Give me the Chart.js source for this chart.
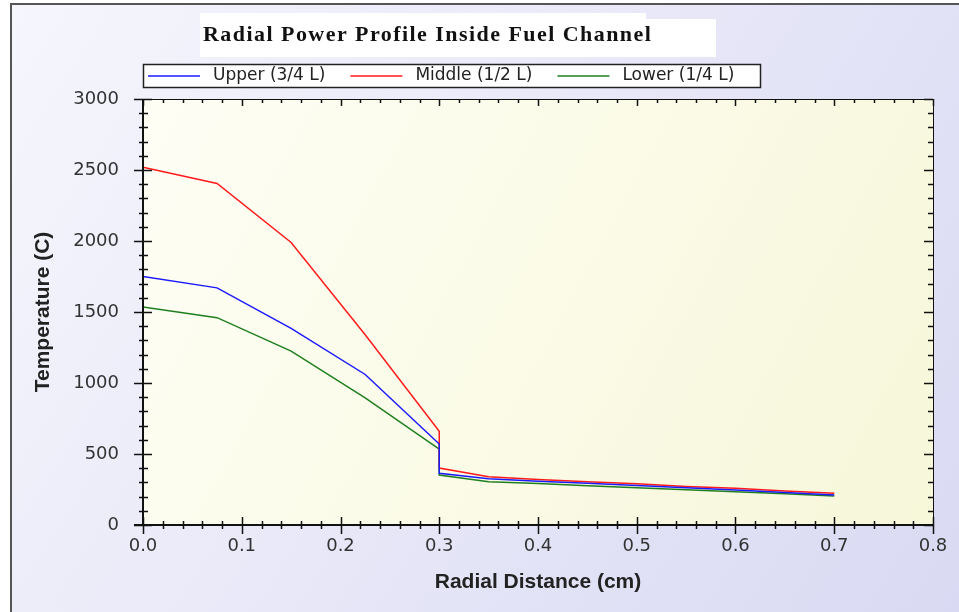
<!DOCTYPE html>
<html lang="en">
<head>
<meta charset="utf-8">
<style>
  html, body { margin: 0; padding: 0; background: #fff; }
  #wrap { width: 959px; height: 612px; }
</style>
</head>
<body>
<div id="wrap"><canvas id="myChart" width="959" height="612"></canvas></div>
<script src="https://cdn.jsdelivr.net/npm/chart.js"></script>
<script>
// values
const radialCm   = [0, 0.075, 0.15, 0.225, 0.3, 0.3, 0.35, 0.4, 0.45, 0.5, 0.55, 0.6, 0.65, 0.7];
const upperTemp  = [1750, 1670, 1385, 1060, 570, 364, 325, 308, 294, 278, 262, 246, 229, 211];
const middleTemp = [2520, 2405, 1990, 1340, 660, 401, 340, 320, 304, 290, 272, 258, 240, 223];
const lowerTemp  = [1535, 1460, 1225, 895, 535, 352, 305, 292, 276, 262, 248, 235, 220, 205];
const seriesNames = ['Upper (3/4 L)', 'Middle (1/2 L)', 'Lower (1/4 L)'];
const seriesColors = ['#1a1aff', '#ff1a1a', '#1f7f1f'];
const chartTitle = 'Radial Power Profile Inside Fuel Channel';

function toPoints(ys) {
  return radialCm.map((x, i) => ({ x: x, y: ys[i] }));
}

// backgrounds, frame, title, legend and tick marks
const decor = {
  id: 'decor',
  beforeDraw(chart) {
    const ctx = chart.ctx;
    const a = chart.chartArea;
    ctx.save();
    ctx.fillStyle = '#ffffff';
    ctx.fillRect(0, 0, chart.width, chart.height);
    let g = ctx.createLinearGradient(11, 4, chart.width, chart.height);
    g.addColorStop(0, '#f6f6fd');
    g.addColorStop(1, '#d9d9f3');
    ctx.fillStyle = g;
    ctx.fillRect(11, 4, chart.width - 11, chart.height - 4);
    ctx.strokeStyle = '#555';
    ctx.lineWidth = 2;
    ctx.beginPath();
    ctx.moveTo(11, chart.height);
    ctx.lineTo(11, 4);
    ctx.lineTo(chart.width, 4);
    ctx.stroke();
    // white box behind title
    ctx.fillStyle = '#ffffff';
    ctx.fillRect(200, 13, 446, 8);
    ctx.fillRect(200, 19, 516, 38);
    // plot area
    g = ctx.createLinearGradient(a.left, a.top, a.right, a.bottom);
    g.addColorStop(0, '#fefef5');
    g.addColorStop(1, '#f7f7da');
    ctx.fillStyle = g;
    ctx.fillRect(a.left, a.top, a.right - a.left, a.bottom - a.top);
    // title
    ctx.fillStyle = '#111';
    ctx.font = 'bold 22px "Liberation Serif"';
    ctx.letterSpacing = '1.45px';
    ctx.textAlign = 'left';
    ctx.textBaseline = 'alphabetic';
    ctx.fillText(chartTitle, 203, 41);
    ctx.restore();
  },
  afterDraw(chart) {
    const ctx = chart.ctx;
    const a = chart.chartArea;
    const xs = chart.scales.x, ys = chart.scales.y;
    ctx.save();
    ctx.strokeStyle = '#111';
    ctx.lineWidth = 1;
    // frame of plot area
    ctx.strokeRect(a.left + 0.5, a.top + 0.5, a.right - a.left, a.bottom - a.top);
    ctx.lineWidth = 2;
    ctx.beginPath();
    ctx.moveTo(a.left, a.top);
    ctx.lineTo(a.left, a.bottom);
    ctx.moveTo(a.left - 9, a.bottom);
    ctx.lineTo(a.right, a.bottom);
    ctx.stroke();
    ctx.lineWidth = 1.5;
    ctx.beginPath();
    // y ticks, minor every 100
    for (let i = 0; i <= 30; i++) {
      const y = Math.round(ys.getPixelForValue(i * 100)) + 0.5;
      const major = i % 5 === 0;
      ctx.moveTo(a.left - (major ? 9 : 4), y);
      ctx.lineTo(a.left + (major ? 9 : 5), y);
      ctx.moveTo(a.right - (major ? 9 : 5), y);
      ctx.lineTo(a.right, y);
    }
    // x ticks, minor every 0.02
    for (let i = 0; i <= 40; i++) {
      const x = Math.round(xs.getPixelForValue(i * 0.02)) + 0.5;
      const major = i % 5 === 0;
      ctx.moveTo(x, a.bottom - (major ? 8 : 4));
      ctx.lineTo(x, a.bottom + (major ? 9 : 4));
      ctx.moveTo(x, a.top);
      ctx.lineTo(x, a.top + (major ? 7 : 4));
    }
    ctx.stroke();
    // legend
    ctx.fillStyle = '#ffffff';
    ctx.fillRect(143, 64, 617, 23);
    ctx.strokeStyle = '#222';
    ctx.lineWidth = 1.5;
    ctx.strokeRect(143.5, 64.5, 617, 23);
    ctx.font = '17px "DejaVu Sans"';
    ctx.textBaseline = 'middle';
    ctx.textAlign = 'left';
    let lx = 148;
    chart.data.datasets.forEach((ds) => {
      ctx.strokeStyle = ds.borderColor;
      ctx.lineWidth = 1.5;
      ctx.beginPath();
      ctx.moveTo(lx, 76);
      ctx.lineTo(lx + 52, 76);
      ctx.stroke();
      ctx.fillStyle = '#222';
      ctx.fillText(ds.label, lx + 65, 76);
      lx += 65 + ctx.measureText(ds.label).width + 25;
    });
    ctx.restore();
  }
};

const data = {
  datasets: [
    { label: seriesNames[0], data: toPoints(upperTemp), borderColor: seriesColors[0] },
    { label: seriesNames[1], data: toPoints(middleTemp), borderColor: seriesColors[1] },
    { label: seriesNames[2], data: toPoints(lowerTemp), borderColor: seriesColors[2] }
  ]
};

const config = {
  type: 'line',
  data: data,
  options: {
    responsive: false,
    animation: false,
    layout: { padding: { left: 11, right: 26, top: 99, bottom: 7 } },
    elements: {
      point: { radius: 0 },
      line: { borderWidth: 1.5, tension: 0 }
    },
    plugins: {
      legend: { display: false },
      title: { display: false },
      tooltip: { enabled: false }
    },
    scales: {
      x: {
        type: 'linear',
        min: 0, max: 0.8,
        afterFit: (s) => { s.height = 80; },
        grid: { display: false, drawTicks: false },
        border: { display: false },
        ticks: {
          stepSize: 0.1,
          padding: 11,
          color: '#333',
          font: { family: 'DejaVu Sans', size: 18 },
          callback: (v) => v.toFixed(1)
        },
        title: {
          display: true,
          text: 'Radial Distance (cm)',
          color: '#222',
          font: { family: 'Liberation Sans', size: 21, weight: 'bold' },
          padding: { top: 0, bottom: 10 }
        }
      },
      y: {
        min: 0, max: 3000,
        afterFit: (s) => { s.width = 132; },
        grid: { display: false, drawTicks: false },
        border: { display: false },
        ticks: {
          stepSize: 500,
          padding: 24,
          color: '#333',
          font: { family: 'DejaVu Sans', size: 18 },
          callback: (v) => String(v)
        },
        title: {
          display: true,
          text: 'Temperature (C)',
          color: '#222',
          font: { family: 'Liberation Sans', size: 21, weight: 'bold' },
          padding: { top: 20, bottom: 0 }
        }
      }
    }
  },
  plugins: [decor]
};

const myChart = new Chart(document.getElementById('myChart'), config);
</script>
</body>
</html>
